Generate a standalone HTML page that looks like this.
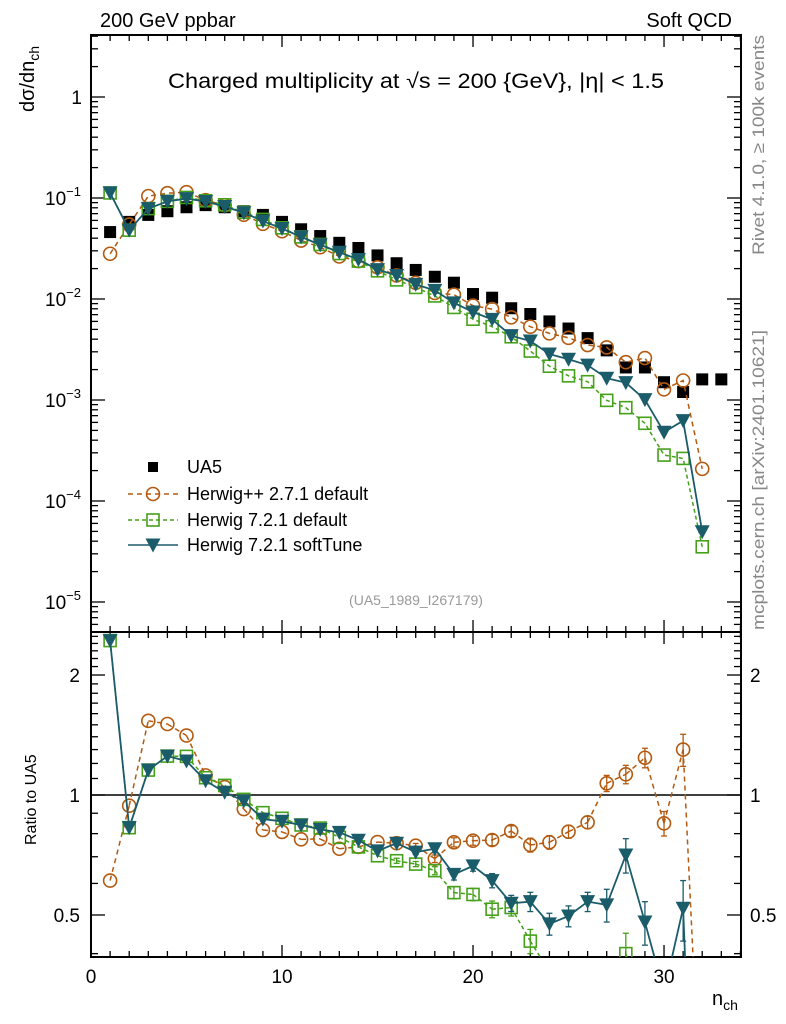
<!DOCTYPE html>
<html><head><meta charset="utf-8"><style>
html,body{margin:0;padding:0;background:#fff;overflow:hidden;width:786px;height:1024px;}
svg{display:block;font-family:"Liberation Sans",sans-serif;}
</style></head><body>
<svg id="chart" width="786" height="1024" viewBox="0 0 786 1024">
<defs>
<clipPath id="clipMain"><rect x="91" y="35" width="650" height="597"/></clipPath>
<clipPath id="clipRatio"><rect x="91" y="632" width="650" height="325"/></clipPath>
</defs>
<text x="100" y="27" font-size="20">200 GeV ppbar</text>
<text x="732" y="27" font-size="20" text-anchor="end">Soft QCD</text>
<text x="168" y="88" font-size="21" textLength="496" lengthAdjust="spacingAndGlyphs">Charged multiplicity at √s = 200 {GeV}, |η| &lt; 1.5</text>
<text x="416" y="605" font-size="14" fill="#999" text-anchor="middle">(UA5_1989_I267179)</text>
<text transform="translate(764,255) rotate(-90)" font-size="17" fill="#888" textLength="220" lengthAdjust="spacingAndGlyphs">Rivet 4.1.0, ≥ 100k events</text>
<text transform="translate(764,630) rotate(-90)" font-size="17" fill="#888" textLength="300" lengthAdjust="spacingAndGlyphs">mcplots.cern.ch [arXiv:2401.10621]</text>
<text transform="translate(34,112) rotate(-90)" font-size="20">dσ/dn<tspan font-size="14" dy="5">ch</tspan></text>
<text transform="translate(36,845) rotate(-90)" font-size="16">Ratio to UA5</text>
<text x="712" y="1005" font-size="20">n<tspan font-size="14" dy="5">ch</tspan></text>
<g id="axes"></g>
<g id="mainMarks" clip-path="url(#clipMain)"></g>
<g id="ratioMarks" clip-path="url(#clipRatio)"></g>
<g id="legend"></g>
</svg>
<script>
const nValues = [1,2,3,4,5,6,7,8,9,10,11,12,13,14,15,16,17,18,19,20,21,22,23,24,25,26,27,28,29,30,31,32,33];
const ua5Values = [0.046,0.058,0.068,0.074,0.081,0.085,0.081,0.074,0.068,0.058,0.049,0.042,0.036,0.032,0.027,0.0226,0.0194,0.0166,0.0145,0.0112,0.0103,0.0081,0.0071,0.0060,0.0051,0.0041,0.0031,0.0021,0.0021,0.0015,0.0012,0.0016,0.0016];
const herppRatio = [0.61,0.94,1.535,1.507,1.41,1.12,1.047,0.922,0.817,0.808,0.774,0.776,0.733,0.741,0.762,0.757,0.746,0.692,0.761,0.768,0.771,0.812,0.749,0.761,0.809,0.854,1.07,1.127,1.24,0.849,1.30,0.13];
const h7Ratio = [2.44,0.828,1.155,1.252,1.25,1.105,1.057,0.975,0.903,0.874,0.841,0.826,0.783,0.741,0.704,0.684,0.671,0.646,0.569,0.563,0.517,0.522,0.43,0.36,0.34,0.37,0.32,0.40,0.28,0.19,0.22,0.022];
const softRatio = [2.44,0.828,1.155,1.252,1.217,1.086,1.016,0.966,0.87,0.859,0.841,0.82,0.806,0.77,0.724,0.757,0.719,0.733,0.632,0.664,0.61,0.535,0.54,0.475,0.497,0.54,0.53,0.707,0.48,0.32,0.52,0.031];
const herppErr = [0,0,0,0,0,0,0,0,0,0,0,0,0,0,0,0.01,0.01,0.015,0.02,0.02,0.025,0.025,0.03,0.03,0.03,0.03,0.05,0.06,0.07,0.06,0.12,0.05];
const h7Err = [0,0,0,0,0,0,0,0,0,0,0,0,0,0,0,0.01,0.01,0.015,0.02,0.02,0.025,0.025,0.03,0.03,0.03,0.03,0.04,0.05,0.05,0.04,0.05,0.01];
const softErr = [0,0,0,0,0,0,0,0,0,0,0,0,0,0,0,0.01,0.01,0.015,0.02,0.02,0.025,0.025,0.03,0.03,0.03,0.03,0.05,0.07,0.06,0.06,0.09,0.01];
const xTicks = [0,10,20,30];
const mainYTicks = [0,-1,-2,-3,-4,-5];
const ratioYTicks = [0.5,1,2];

const NS = "http://www.w3.org/2000/svg";
const X0 = 91, X1 = 741, MT = 35, MB = 632, RB = 957;
const xMax = 34.03;
function xs(n){ return X0 + n/xMax*(X1-X0); }
function ym(v){ return 97 - 101*Math.log10(v); }
function yr(r){ return 795 - 398.6*Math.log10(r); }
function mk(tag, attrs, parent){ const e=document.createElementNS(NS,tag); for(const k in attrs) e.setAttribute(k,attrs[k]); parent.appendChild(e); return e; }
// clip polyline to vertical band [lo,hi]; returns path d
function clipPath(pts, lo, hi){
  let d='';
  for(let i=0;i<pts.length-1;i++){
    let [x1,y1]=pts[i],[x2,y2]=pts[i+1];
    if((y1<lo&&y2<lo)||(y1>hi&&y2>hi)) continue;
    const cl=(xa,ya,xb,yb)=>{ let y=ya; if(ya>hi) y=hi; if(ya<lo) y=lo; if(y===ya) return [xa,ya]; const t=(y-ya)/(yb-ya); return [xa+t*(xb-xa),y]; };
    const a=cl(x1,y1,x2,y2), b=cl(x2,y2,x1,y1);
    d+=`M${a[0].toFixed(2)},${a[1].toFixed(2)}L${b[0].toFixed(2)},${b[1].toFixed(2)}`;
  }
  return d;
}

const axes = document.getElementById('axes');
const fm = mk('rect',{x:X0,y:MT,width:X1-X0,height:MB-MT,fill:'none',stroke:'#000','stroke-width':2},axes);


const fr = mk('rect',{x:X0,y:MB,width:X1-X0,height:RB-MB,fill:'none',stroke:'#000','stroke-width':2},axes);


const one = mk('line',{x1:X0,x2:X1,y1:yr(1),y2:yr(1),stroke:'#000','stroke-width':1.5},axes);



for(let n=0;n<=34;n++){
  const x=xs(n), major = n%10===0, L = major?12:6;
  [[MT,MT+L],[MB,MB-L],[MB,MB+L],[RB,RB-L]].forEach(p=>mk('line',{x1:x,x2:x,y1:p[0],y2:p[1],stroke:'#000','stroke-width':1.3},axes));
}
xTicks.forEach(t=>{
  const tx = mk('text',{x:xs(t),y:983,'font-size':19,'text-anchor':'middle'},axes);
  tx.textContent = t;
  
  
});
for(let d=-6; d<=0; d++){
  for(let m=1;m<10;m++){
    const v = m*Math.pow(10,d), y = ym(v);
    if(y<MT||y>MB) continue;
    const L = m===1?14:7;
    mk('line',{x1:X0,x2:X0+L,y1:y,y2:y,stroke:'#000','stroke-width':1.3},axes);
    mk('line',{x1:X1,x2:X1-L,y1:y,y2:y,stroke:'#000','stroke-width':1.3},axes);
  }
}
mainYTicks.forEach(e=>{
  const y = ym(Math.pow(10,e));
  const tx = mk('text',{x:e===0?82:81,y:y+7,'font-size':19,'text-anchor':'end'},axes);
  
  
  if(e===0){ tx.textContent='1'; }
  else { tx.textContent='10'; const s=document.createElementNS(NS,'tspan'); s.setAttribute('font-size','13'); s.setAttribute('dy','-9'); s.textContent='−'+(-e); tx.appendChild(s); }
});
for(let r=0.4;r<=2.55;r+=0.1){
  const rr=Math.round(r*10)/10, y=yr(rr);
  if(y<MB||y>RB) continue;
  const L = (rr===0.5||rr===1||rr===2)?14:7;
  mk('line',{x1:X0,x2:X0+L,y1:y,y2:y,stroke:'#000','stroke-width':1.3},axes);
  mk('line',{x1:X1,x2:X1-L,y1:y,y2:y,stroke:'#000','stroke-width':1.3},axes);
}
ratioYTicks.forEach(r=>{
  const y=yr(r);
  const a = mk('text',{x:80,y:y+7,'font-size':19,'text-anchor':'end'},axes);
  a.textContent = r;
  
  
  const b = mk('text',{x:750,y:y+7,'font-size':19},axes);
  b.textContent = r;
  
  
});

const series = [
  {name:'herwigpp-2-7-1', ratio:herppRatio, err:herppErr, color:'#b35a10', dash:'5,4', marker:'circle', width:1.5},
  {name:'herwig-7-2-1-default', ratio:h7Ratio, err:h7Err, color:'#45a01a', dash:'4,3', marker:'square', width:1.5},
  {name:'herwig-7-2-1-softtune', ratio:softRatio, err:softErr, color:'#1b5c6b', dash:null, marker:'tri', width:1.8}
];
function drawMarker(g, type, x, y, color){
  let e;
  if(type==='circle') e = mk('circle',{cx:x,cy:y,r:6.5,fill:'none',stroke:color,'stroke-width':1.6},g);
  else if(type==='square') e = mk('rect',{x:x-6,y:y-6,width:12,height:12,fill:'none',stroke:color,'stroke-width':1.6},g);
  else if(type==='tri') e = mk('polygon',{points:`${x-7.5},${y-6.5} ${x+7.5},${y-6.5} ${x},${y+7.5}`,fill:color},g);
  else e = mk('rect',{x:x-6,y:y-6,width:12,height:12,fill:'#000'},g);
  return e;
}
const mainG = document.getElementById('mainMarks'), ratioG = document.getElementById('ratioMarks');
nValues.forEach((n,i)=>{
  const e = drawMarker(mainG,'data',xs(n),ym(ua5Values[i]),'#000');
  
  
});
series.forEach(s=>{
  const mainPts = s.ratio.map((r,i)=>[xs(nValues[i]), ym(r*ua5Values[i])]);
  const ratPts = s.ratio.map((r,i)=>[xs(nValues[i]), yr(r)]);
  const a = {fill:'none',stroke:s.color,'stroke-width':s.width};
  if(s.dash) a['stroke-dasharray']=s.dash;
  const pl = mk('polyline',Object.assign({points:mainPts.map(p=>p.join(',')).join(' ')},a),mainG);
  
  
  const pr = mk('path',Object.assign({d:clipPath(ratPts,MB-10,RB+10)},a),ratioG);
  
  
  s.ratio.forEach((r,i)=>{
    const x = xs(nValues[i]);
    const m1 = drawMarker(mainG,s.marker,x,mainPts[i][1],s.color);
    
    
    const yy = ratPts[i][1];
    if(yy < MB-10 || yy > RB+10) return;
    if(s.err[i]>0){
      const y1=yr(r+s.err[i]), y2=Math.min(yr(Math.max(r-s.err[i],0.01)),RB+10);
      mk('line',{x1:x,x2:x,y1:y1,y2:y2,stroke:s.color,'stroke-width':1.3},ratioG);
      mk('line',{x1:x-3,x2:x+3,y1:y1,y2:y1,stroke:s.color,'stroke-width':1.3},ratioG);
      mk('line',{x1:x-3,x2:x+3,y1:y2,y2:y2,stroke:s.color,'stroke-width':1.3},ratioG);
    }
    const m2 = drawMarker(ratioG,s.marker,x,yy,s.color);
    
    
  });
});
const lg = document.getElementById('legend');
const legItems = [
  {label:'UA5', marker:'data', color:'#000', dash:null, line:false, y:467},
  {label:'Herwig++ 2.7.1 default', marker:'circle', color:'#b35a10', dash:'5,4', line:true, y:494},
  {label:'Herwig 7.2.1 default', marker:'square', color:'#45a01a', dash:'4,3', line:true, y:520},
  {label:'Herwig 7.2.1 softTune', marker:'tri', color:'#1b5c6b', dash:null, line:true, y:545}
];
legItems.forEach(it=>{
  const g = mk('g',{},lg);
  
  
  if(it.line){ const a={x1:128,x2:178,y1:it.y,y2:it.y,stroke:it.color,'stroke-width':1.5}; if(it.dash)a['stroke-dasharray']=it.dash; mk('line',a,g); }
  if(it.marker==='data') mk('rect',{x:148,y:it.y-5,width:10,height:10,fill:'#000'},g);
  else drawMarker(g,it.marker,153,it.y,it.color);
  const t = mk('text',{x:187,y:it.y+6,'font-size':18},g);
  t.textContent = it.label;
});
</script>
</body></html>
